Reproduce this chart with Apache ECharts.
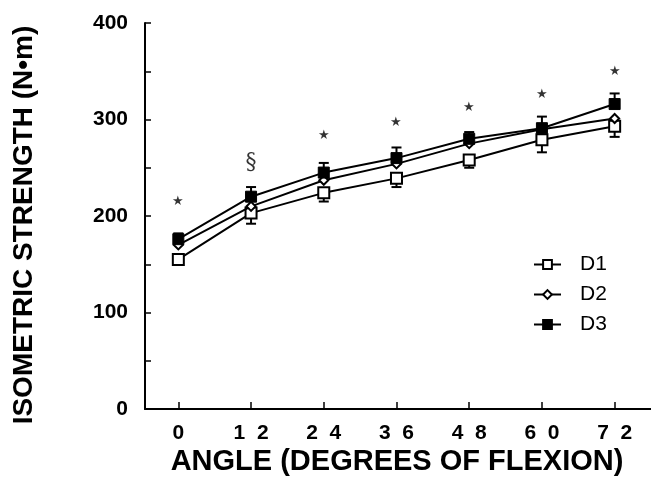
<!DOCTYPE html>
<html><head><meta charset="utf-8">
<script src="https://cdn.jsdelivr.net/npm/echarts@6/dist/echarts.min.js"></script>
<style>html,body{margin:0;padding:0;background:#fff}#c{width:651px;height:479px}</style>
</head><body><div id="c"></div>
<script>
var angles = [0, 12, 24, 36, 48, 60, 72];
var d1 = [155, 203, 224, 239, 258, 279, 293];
var d2 = [170, 210, 237, 254, 275, 290, 301];
var d3 = [176, 220, 245, 260, 280, 291, 316];
var d3ErrUp = [6, 10, 10, 11, 7, 12, 11];
var d1ErrDown = [5, 11, 9, 9, 8, 13, 11];
var markY = [215, 256, 283, 297, 312, 326, 350];
var markText = ['★', '§', '★', '★', '★', '★', '★'];
var yTicks = [0, 100, 200, 300, 400];
var xTitle = 'ANGLE (DEGREES OF FLEXION)';
var yTitle = 'ISOMETRIC STRENGTH (N•m)';

var font = '"Liberation Sans", Arial, sans-serif';
function pairs(v){ return angles.map(function(a,i){ return [a, v[i]]; }); }

var errData = [];
angles.forEach(function(a,i){
  errData.push([a, d3[i], d3[i] + d3ErrUp[i]]);
  errData.push([a, d1[i], d1[i] - d1ErrDown[i]]);
});

var chart = echarts.init(document.getElementById('c'), null, {renderer:'canvas'});
chart.setOption({
  animation: false,
  backgroundColor: '#fff',
  grid: {left: 145, right: 0, top: 23, bottom: 70},
  graphic: [
    {type: 'text', position: [397, 462], z: 10,
      style: {text: xTitle, fill: '#000', font: 'bold 29px ' + font, textAlign: 'center', textVerticalAlign: 'middle'}},
    {type: 'text', position: [24, 225], rotation: Math.PI / 2, z: 10,
      style: {text: yTitle, fill: '#000', font: 'bold 28px ' + font, textAlign: 'center', textVerticalAlign: 'middle'}}
  ],
  xAxis: {
    type: 'value', min: -5.5, max: 78,
    axisLine: {onZero: false, lineStyle: {color: '#000', width: 2}},
    axisTick: {inside: true, length: 7, lineStyle: {color: '#000', width: 1.5}, customValues: angles},
    axisLabel: {customValues: angles, color: '#000', fontFamily: font, fontWeight: 'bold', fontSize: 21, margin: 14,
      formatter: function(v){ return String(v).split('').join('  '); }},
    splitLine: {show: false}
  },
  yAxis: {
    type: 'value', min: 0, max: 400, interval: 50,
    axisLine: {show: true, onZero: false, lineStyle: {color: '#000', width: 2}},
    axisTick: {inside: true, length: 6, lineStyle: {color: '#000', width: 1.5}},
    axisLabel: {customValues: yTicks, color: '#000', fontFamily: font, fontWeight: 'bold', fontSize: 21, margin: 17},
    splitLine: {show: false}
  },
  legend: {
    orient: 'vertical', left: 528, top: 249, itemGap: 9, itemWidth: 27, itemHeight: 11,
    textStyle: {color: '#000', fontFamily: font, fontSize: 21, padding: [0,0,0,14]},
    data: ['D1', 'D2', 'D3']
  },
  series: [
    {type: 'custom', name: 'err', data: errData, z: 1,
      renderItem: function(params, api){
        var p0 = api.coord([api.value(0), api.value(1)]);
        var p1 = api.coord([api.value(0), api.value(2)]);
        return {type: 'group', children: [
          {type: 'line', shape: {x1: p0[0], y1: p0[1], x2: p1[0], y2: p1[1]}, style: {stroke: '#000', lineWidth: 2}},
          {type: 'line', shape: {x1: p1[0]-5, y1: p1[1], x2: p1[0]+5, y2: p1[1]}, style: {stroke: '#000', lineWidth: 2}}
        ]};
      }},
    {type: 'line', name: 'D1', data: pairs(d1), symbol: 'rect', symbolSize: 11, z: 2,
      lineStyle: {color: '#000', width: 2}, itemStyle: {color: '#fff', borderColor: '#000', borderWidth: 2}},
    {type: 'line', name: 'D2', data: pairs(d2), symbol: 'diamond', symbolSize: 9, z: 3,
      lineStyle: {color: '#000', width: 2}, itemStyle: {color: '#fff', borderColor: '#000', borderWidth: 2}},
    {type: 'line', name: 'D3', data: pairs(d3), symbol: 'rect', symbolSize: 11, z: 4,
      lineStyle: {color: '#000', width: 2}, itemStyle: {color: '#000', borderColor: '#000', borderWidth: 1}},
    {type: 'scatter', name: 'marks', symbolSize: 0, z: 5,
      data: angles.map(function(a,i){ return {value: [a, markY[i]], label: {formatter: markText[i], fontSize: markText[i] === '§' ? 22 : 13}}; }),
      label: {show: true, position: 'inside', color: '#000', fontFamily: '"DejaVu Serif", serif'}}
  ]
});
</script></body></html>
